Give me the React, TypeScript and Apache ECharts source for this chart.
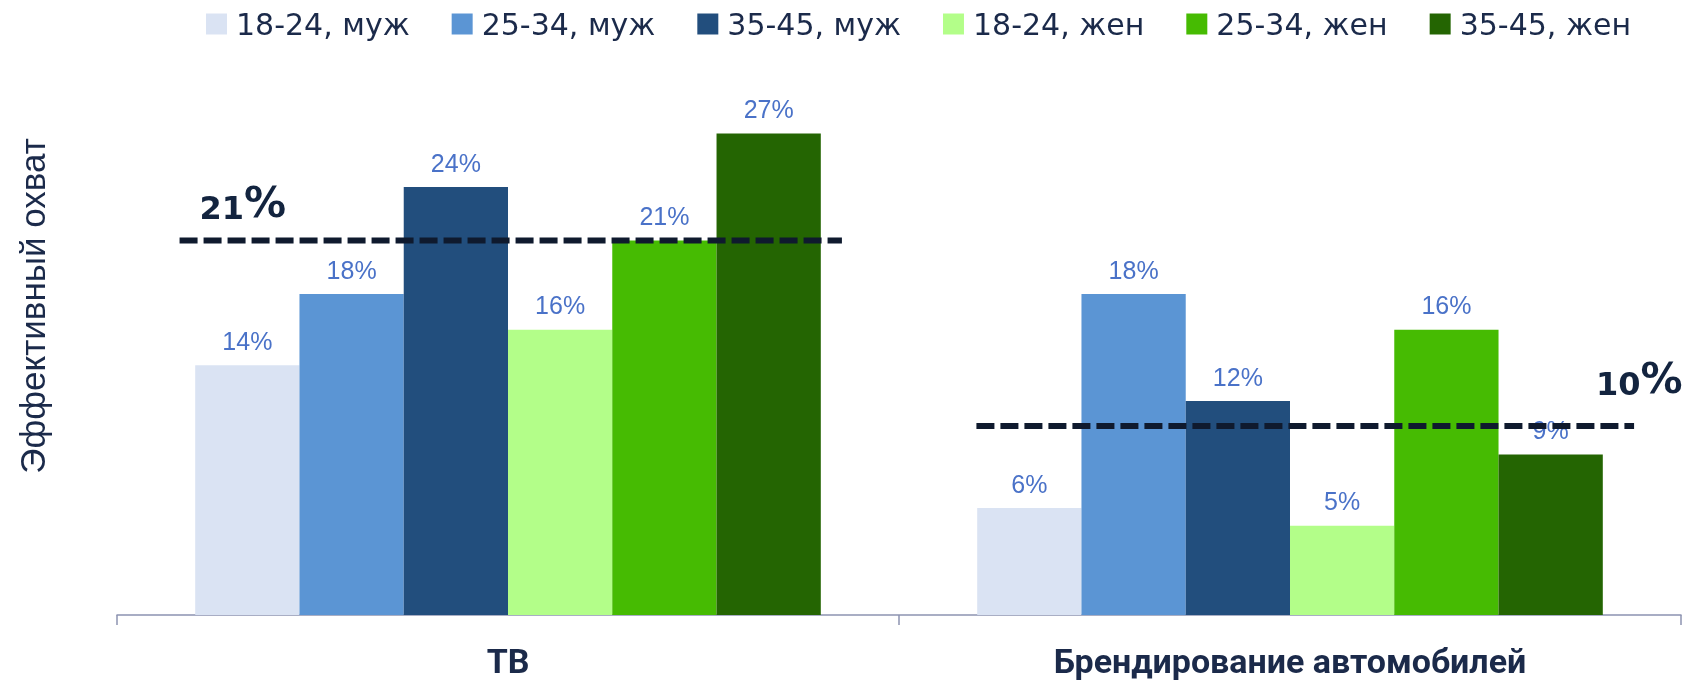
import React, { useEffect, useRef } from 'react';
import * as echarts from 'echarts';

const categories = ['ТВ', 'Брендирование автомобилей'];
const seriesNames = ['18-24, муж', '25-34, муж', '35-45, муж', '18-24, жен', '25-34, жен', '35-45, жен'];
const male1824 = [14, 6];
const male2534 = [18, 18];
const male3545 = [24, 12];
const female1824 = [16, 5];
const female2534 = [21, 16];
const female3545 = [27, 9];
const averageLabels = ['21', '10'];
const averageLevels = [21, 10.6];
const yAxisTitle = 'Эффективный охват';

const seriesValues = [male1824, male2534, male3545, female1824, female2534, female3545];
const seriesColors = ['#dae3f3', '#5b95d4', '#224e7d', '#b3fe89', '#46bb02', '#246502'];

export default function App() {
  const ref = useRef<HTMLDivElement>(null);
  useEffect(() => {
    if (!ref.current) return;
    const chart = echarts.init(ref.current, undefined, { renderer: 'svg' });
    const textColor = '#1b2a4a';
    const lineColor = '#0f1a2e';
    // helper spans in units of the hidden value axis (each category = 1 unit)
    const spans = [
      [0.08, 0.927],
      [1.099, 1.94],
    ];
    const barSeries = seriesNames.map((name, i) => ({
      name,
      type: 'bar',
      data: seriesValues[i],
      barGap: '0%',
      barCategoryGap: '20%',
      itemStyle: { color: seriesColors[i] },
      z: 2,
      label: {
        show: true,
        position: 'top',
        distance: 12,
        formatter: '{c}%',
        fontFamily: 'Liberation Sans',
        fontSize: 25,
        color: '#4a72c8',
      },
    }));
    const lineSeries = averageLevels.map((lv, i) => ({
      type: 'line',
      xAxisIndex: 1,
      yAxisIndex: 0,
      data: [
        [spans[i][0], lv],
        [spans[i][1], lv],
      ],
      symbol: 'none',
      silent: true,
      z: 10,
      lineStyle: { color: lineColor, width: 6, type: [18, 6] },
    }));
    chart.setOption({
      animation: false,
      grid: { left: 117, right: 12, top: 80, bottom: 67 },
      legend: {
        data: seriesNames,
        left: 201,
        top: 4,
        itemWidth: 21,
        itemHeight: 21,
        itemGap: 42,
        icon: 'rect',
        textStyle: {
          fontFamily: 'DejaVu Sans',
          fontSize: 30,
          color: textColor,
          padding: [0, 0, 0, 4],
        },
      },
      xAxis: [
        {
          type: 'category',
          data: categories,
          axisLine: { lineStyle: { color: '#8c93b1', width: 1.5 } },
          axisTick: { show: true, length: 10, lineStyle: { color: '#8c93b1', width: 1.5 } },
          axisLabel: {
            fontFamily: 'Roboto',
            fontWeight: 'bold',
            fontSize: 34,
            color: textColor,
            margin: 29,
          },
        },
        { type: 'value', min: 0, max: 2, show: false },
      ],
      yAxis: { type: 'value', min: 0, max: 30, show: false },
      series: [...barSeries, ...lineSeries],
    });

    const graphics: any[] = [];
    const offsets = [
      { idx: 0, dx: 20, dy: -17 },
      { idx: 1, dx: -38, dy: -26 },
    ];
    offsets.forEach((o, i) => {
      const pt = chart.convertToPixel({ xAxisIndex: 1, yAxisIndex: 0 } as any, [spans[i][o.idx], averageLevels[i]]) as number[];
      graphics.push({
        type: 'text',
        x: pt[0] + o.dx,
        y: pt[1] + o.dy,
        style: {
          text: `{a|${averageLabels[i]}}{b|%}`,
          align: 'left',
          verticalAlign: 'bottom',
          fill: '#13243f',
          rich: {
            a: { fontFamily: 'DejaVu Sans', fontWeight: 'bold', fontSize: 32, fill: '#13243f', verticalAlign: 'bottom' },
            b: { fontFamily: 'DejaVu Sans', fontWeight: 'bold', fontSize: 42, fill: '#13243f', verticalAlign: 'bottom' },
          },
        },
        z: 20,
      });
    });
    graphics.push({
      type: 'text',
      x: 32,
      y: 306,
      rotation: Math.PI / 2,
      style: {
        text: yAxisTitle,
        fontFamily: 'Liberation Sans',
        fontSize: 35,
        fill: textColor,
        align: 'center',
        verticalAlign: 'middle',
      },
    });
    chart.setOption({ graphic: graphics });

    return () => chart.dispose();
  }, []);
  return (
    <div
      ref={ref}
      style={{ position: 'fixed', left: 0, top: 0, width: '1693px', height: '682px' }}
    />
  );
}
